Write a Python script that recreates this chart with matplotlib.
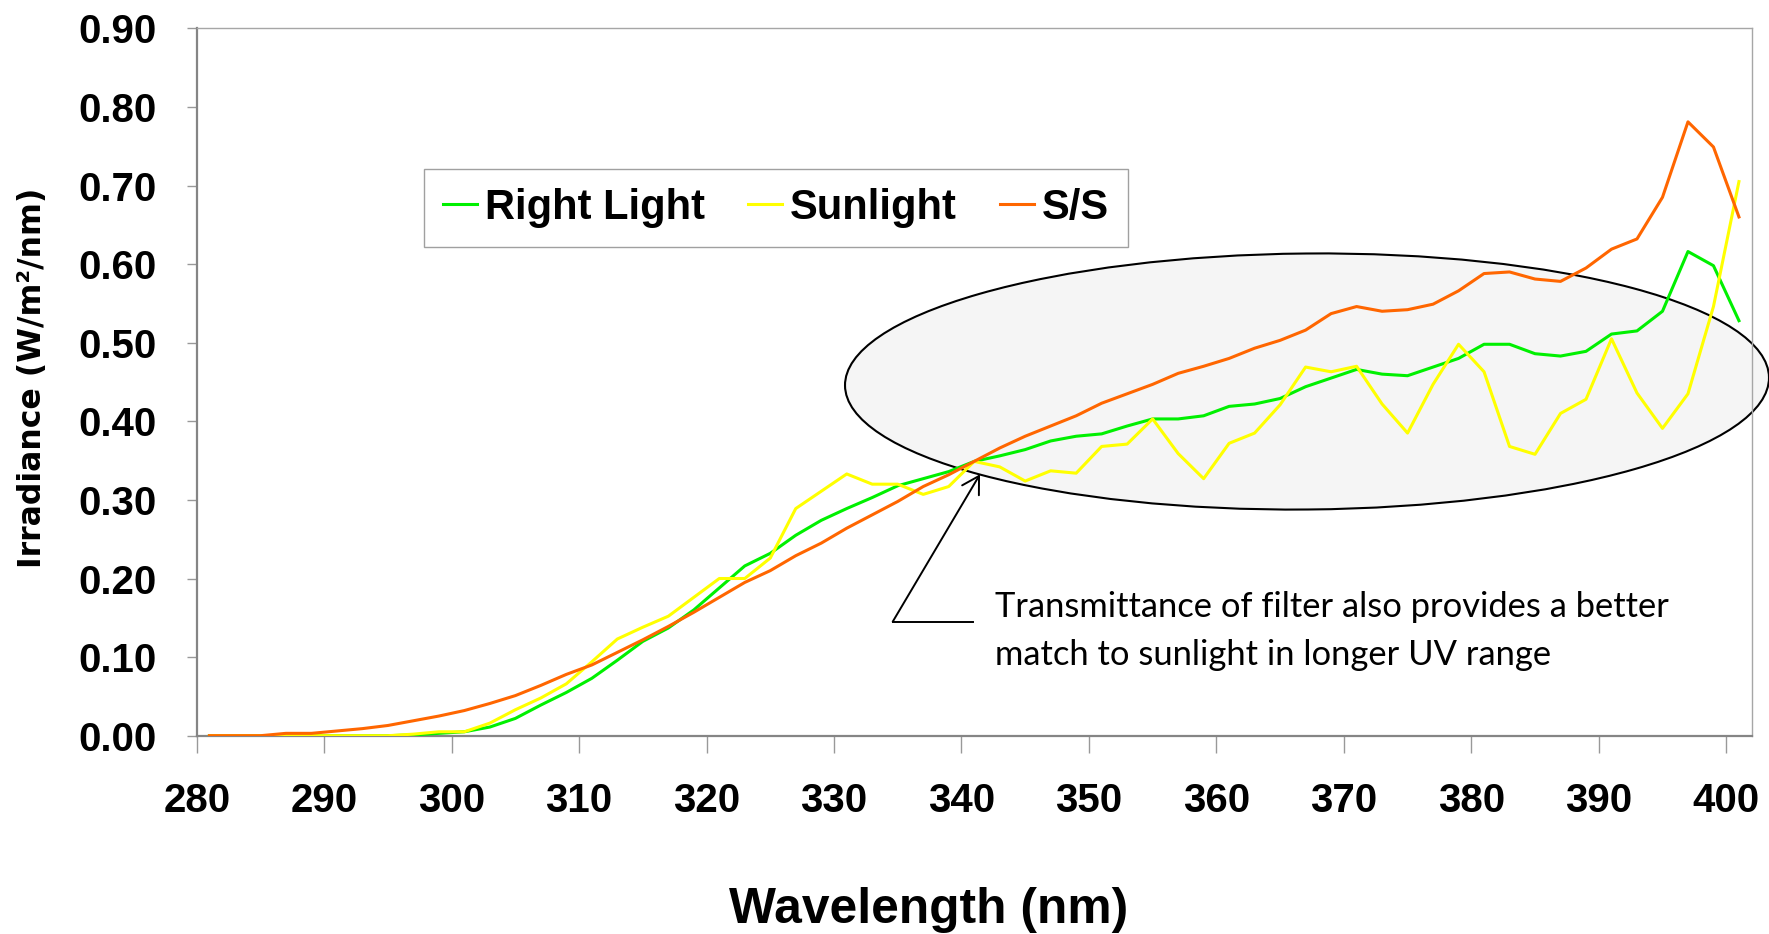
import matplotlib
matplotlib.use("Agg")
import matplotlib.pyplot as plt
from matplotlib.patches import Ellipse
from matplotlib.lines import Line2D
from matplotlib.transforms import IdentityTransform

plt.rcParams['font.family'] = ['Liberation Sans', 'DejaVu Sans']
plt.rcParams['font.weight'] = 'bold'

wavelength = [281, 283, 285, 287, 289, 291, 293, 295, 297, 299,
              301, 303, 305, 307, 309, 311, 313, 315, 317, 319,
              321, 323, 325, 327, 329, 331, 333, 335, 337, 339,
              341, 343, 345, 347, 349, 351, 353, 355, 357, 359,
              361, 363, 365, 367, 369, 371, 373, 375, 377, 379,
              381, 383, 385, 387, 389, 391, 393, 395, 397, 399, 401]

right_light = [0.000, 0.000, 0.000, 0.000, 0.000, 0.000, 0.000, 0.000, 0.001, 0.003,
               0.005, 0.011, 0.022, 0.039, 0.055, 0.073, 0.096, 0.120, 0.137, 0.160,
               0.188, 0.216, 0.232, 0.255, 0.274, 0.289, 0.303, 0.318, 0.327, 0.336,
               0.349, 0.356, 0.364, 0.375, 0.381, 0.384, 0.394, 0.403, 0.403, 0.407,
               0.419, 0.422, 0.429, 0.444, 0.455, 0.466, 0.460, 0.458, 0.469, 0.480,
               0.498, 0.498, 0.486, 0.483, 0.489, 0.511, 0.515, 0.540, 0.616, 0.598, 0.528]

sunlight = [0.000, 0.000, 0.000, 0.000, 0.000, 0.000, 0.000, 0.000, 0.002, 0.005,
            0.005, 0.016, 0.033, 0.048, 0.066, 0.094, 0.123, 0.138, 0.152, 0.176,
            0.200, 0.200, 0.226, 0.289, 0.311, 0.333, 0.320, 0.320, 0.307, 0.317,
            0.349, 0.342, 0.324, 0.337, 0.334, 0.368, 0.371, 0.403, 0.359, 0.327,
            0.372, 0.385, 0.421, 0.469, 0.463, 0.470, 0.422, 0.385, 0.447, 0.498,
            0.463, 0.368, 0.358, 0.410, 0.428, 0.505, 0.436, 0.391, 0.435, 0.546, 0.705]

ss = [0.000, 0.000, 0.000, 0.003, 0.003, 0.006, 0.009, 0.013, 0.019, 0.025,
      0.032, 0.041, 0.051, 0.064, 0.078, 0.090, 0.106, 0.122, 0.139, 0.157,
      0.176, 0.195, 0.210, 0.229, 0.245, 0.264, 0.281, 0.298, 0.317, 0.332,
      0.349, 0.366, 0.381, 0.394, 0.407, 0.423, 0.435, 0.447, 0.461, 0.470,
      0.480, 0.493, 0.503, 0.516, 0.537, 0.546, 0.540, 0.542, 0.549, 0.566,
      0.588, 0.590, 0.581, 0.578, 0.595, 0.619, 0.632, 0.685, 0.781, 0.749, 0.660]

x_ticks = [280, 290, 300, 310, 320, 330, 340, 350, 360, 370, 380, 390, 400]
y_ticks = [0.0, 0.1, 0.2, 0.3, 0.4, 0.5, 0.6, 0.7, 0.8, 0.9]

note = ["Transmittance of filter also provides a better",
        "match to sunlight in longer UV range"]

W, H = 1769, 934
fig = plt.figure(figsize=(W / 100, H / 100), dpi=100)
ax = fig.add_axes([196.7 / W, 1 - 735.7 / H, 1555 / W, 707.4 / H])

# highlight ellipse (pixel coords, reaches past the plot edge)
ell = Ellipse((1307, H - 381.5), 924, 256, angle=0.5, transform=IdentityTransform(),
              facecolor='#f5f5f5', edgecolor='black', lw=1.5, zorder=1.5, clip_on=False)
ax.add_patch(ell)

ax.plot(wavelength, right_light, color='#00f000', lw=2.2, label='Right Light', zorder=3)
ax.plot(wavelength, sunlight, color='#ffff00', lw=2.2, label='Sunlight', zorder=3)
ax.plot(wavelength, ss, color='#ff6600', lw=2.2, label='S/S', zorder=3)

ax.set_xlim(280, 402)
ax.set_ylim(0, 0.9)
ax.set_xticks(x_ticks)
ax.set_yticks(y_ticks)
ax.set_yticklabels([f'{v:.2f}' for v in y_ticks])
ax.tick_params(axis='both', labelsize=29, colors='#999999', labelcolor='black', width=1)
ax.tick_params(axis='y', length=7, pad=22)
ax.tick_params(axis='x', length=12, pad=21)
for side in ['left', 'bottom']:
    ax.spines[side].set_color('#858585')
    ax.spines[side].set_linewidth(1.6)
for side in ['top', 'right']:
    ax.spines[side].set_color('#a6a6a6')
    ax.spines[side].set_linewidth(1.0)

ax.set_xlabel('Wavelength (nm)', fontsize=35.8, fontweight='bold', va='center')
ax.xaxis.set_label_coords(0.4705, -0.2464)
ax.set_ylabel('Irradiance (W/m²/nm)', fontsize=22.7, family='DejaVu Sans',
              fontweight='bold', va='center')
ax.yaxis.set_label_coords(-0.1053, 0.506)

leg = ax.legend(ncol=3, fontsize=30, mode='expand', loc='upper left',
                bbox_to_anchor=(424 / W, 1 - 256 / H, 704 / W, 87 / H),
                bbox_transform=fig.transFigure, borderaxespad=0, borderpad=0.45,
                handlelength=0.82, handletextpad=0.19, fancybox=False,
                edgecolor='#a0a0a0', framealpha=1)
leg.get_frame().set_linewidth(1.0)

# callout
ax.annotate('', xy=(980, H - 474.3), xytext=(892.7, H - 621.7), xycoords='figure pixels',
            textcoords='figure pixels',
            arrowprops=dict(arrowstyle='->,head_length=0.6,head_width=0.35', lw=1.4,
                            color='black', shrinkA=0, shrinkB=0, mutation_scale=20))
fig.add_artist(Line2D([892.7, 972.7], [H - 621.7, H - 621.7], color='black', lw=1.4,
                      transform=IdentityTransform()))
for i, line in enumerate(note):
    fig.text(995 / W, 1 - (617 + 48 * i) / H, line, fontsize=24.8, family='Lato',
             fontweight='normal', va='baseline', ha='left')

fig.savefig('out.png', dpi=100)
